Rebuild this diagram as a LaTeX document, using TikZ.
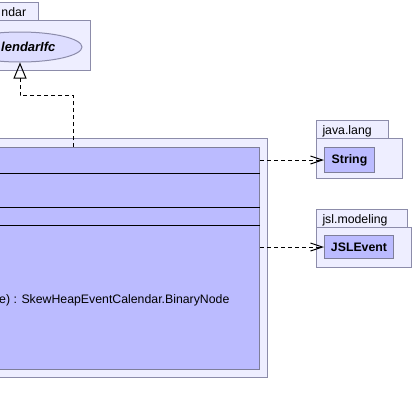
\documentclass[tikz,border=0pt]{standalone}
\usepackage{fontspec}
\setmainfont{Liberation Sans}
\usetikzlibrary{arrows.meta,positioning,calc,shapes.geometric}
\definecolor{PkgFill}{RGB}{238,238,255}
\definecolor{ClsFill}{RGB}{187,187,255}
\definecolor{IfcFill}{RGB}{221,221,255}
\definecolor{UmlLine}{RGB}{140,140,170}

\begin{document}
\begin{tikzpicture}[x=1pt,y=-1pt,
        pkgbody/.style={rectangle, draw=UmlLine, fill=PkgFill, anchor=north west,
                        inner sep=0pt, line width=1pt},
        pkgtab/.style={rectangle, draw=UmlLine, fill=PkgFill, anchor=north west,
                       inner xsep=6pt, inner ysep=0pt, align=left, line width=1pt,
                       text height=14pt, text depth=4pt,
                       font=\fontsize{12.3}{14}\selectfont},
        clsbox/.style={rectangle, draw=UmlLine!90!black, fill=ClsFill, anchor=north west,
                       inner sep=0pt, line width=1pt, font=\fontsize{12.3}{14}\selectfont\bfseries},
        ifcnode/.style={ellipse, draw=UmlLine, fill=IfcFill, inner sep=0pt, line width=1pt,
                        minimum width=124pt, minimum height=30pt,
                        font=\fontsize{13}{15}\selectfont\bfseries\itshape},
        membertext/.style={anchor=base west, inner sep=0pt, font=\fontsize{12.3}{14}\selectfont},
        realize/.style={dash pattern=on 4pt off 3pt, line width=1pt,
                        -{Triangle[open, length=16pt, width=13pt]}},
        depend/.style={dash pattern=on 4pt off 3pt, line width=1pt,
                       -{Straight Barb[length=12pt, width=8pt]}}
      ]
        \useasboundingbox (0,0) rectangle (413,416);
        \clip (0,0) rectangle (413,416);

        % calendar package
        \node[pkgtab, text width=31pt] (caltab) at (-5,2) {ndar};
        \node[pkgbody, minimum width=150pt, minimum height=50pt] (calpkg) at (-60,20) {};
        \node[ifcnode] (califc) at (20,47) {\hphantom{Ca}lendarIfc};

        % outer package and class
        \node[pkgbody, minimum width=487pt, minimum height=239pt] (skewpkg) at (-220,138) {};
        \node[clsbox, minimum width=459pt, minimum height=222pt] (skewcls) at (-200,147) {};
        \draw[line width=1pt] (skewcls.west |- 0,173) -- (skewcls.east |- 0,173);
        \draw[line width=1pt] (skewcls.west |- 0,207) -- (skewcls.east |- 0,207);
        \draw[line width=1pt] (skewcls.west |- 0,225) -- (skewcls.east |- 0,225);
        \node[membertext] (binnode) at (-1,303) {e) : SkewHeapEventCalendar.BinaryNode};

        % java.lang
        \node[pkgtab, text width=60pt] (langtab) at (316,120) {java.lang};
        \node[pkgbody, minimum width=86pt, minimum height=40pt] (langpkg) at (316,138) {};
        \node[clsbox, minimum width=50pt, minimum height=25pt] (strcls) at (324,147) {String};

        % jsl.modeling
        \node[pkgtab, text width=79pt] (modtab) at (316,209) {jsl.modeling};
        \node[pkgbody, minimum width=95pt, minimum height=40pt] (modpkg) at (316,227) {};
        \node[clsbox, minimum width=69pt, minimum height=23pt] (evtcls) at (324,235) {JSLEvent};

        \draw[realize] ($(skewcls.north east)+(-186.5,0)$) |- ($(califc.south)+(0,33)$) -- (califc.south);
        \draw[depend] (strcls.west -| skewcls.east) -- (strcls.west);
        \draw[depend] (evtcls.west -| skewcls.east) -- (evtcls.west);
      \end{tikzpicture}
\end{document}
